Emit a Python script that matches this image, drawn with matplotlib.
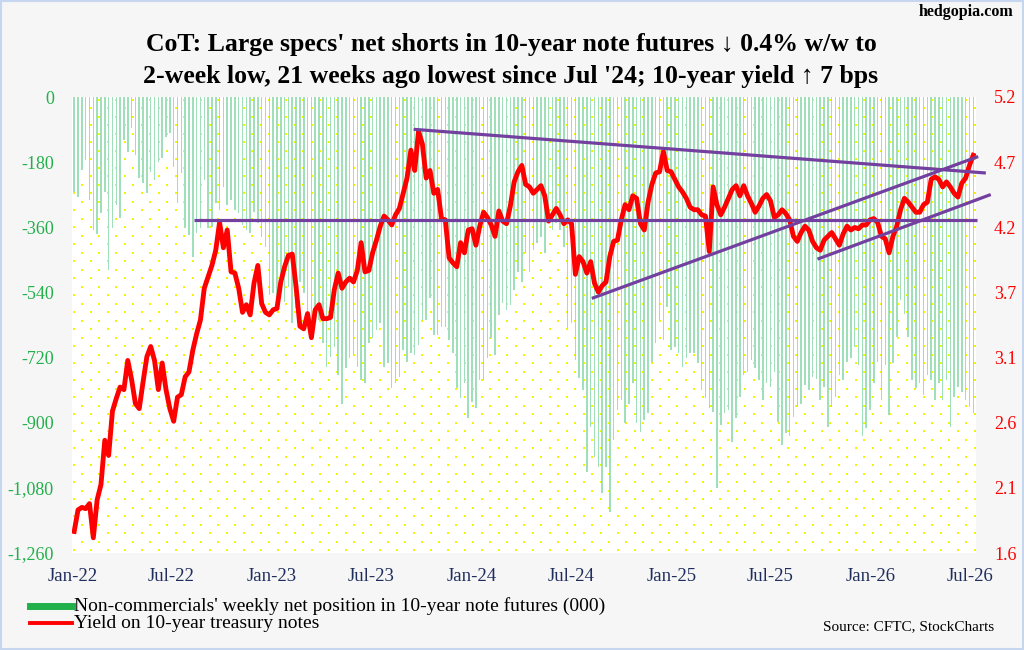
import numpy as np
import pandas as pd
import matplotlib

matplotlib.use("Agg")
import matplotlib.pyplot as plt
import matplotlib.dates as mdates
from matplotlib.lines import Line2D
from matplotlib.patches import Rectangle
from matplotlib.ticker import FixedLocator, FuncFormatter

# weekly CoT reports, first one on Tue 4 Jan 2022
first_week = "2022-01-04"

# non-commercials' net position, 10-year note futures (000 contracts)
net_position = [
    -262, -275, -202, -174, -285, -367, -378, -321, -262, -478,
    -363, -298, -333, -119, -151, -87, -160, -225, -239, -266,
    -206, -229, -179, -169, -110, -100, -193, -294, -211, -363,
    -381, -441, -377, -363, -229, -363, -358, -294, -312, -248,
    -298, -285, -312, -321, -354, -367, -377, -317, -349, -386,
    -414, -547, -542, -560,
    -542, -566, -524, -625, -584, -510, -542, -625, -667, -625,
    -616, -681, -745, -718, -690, -768, -847, -750, -722, -713,
    -745, -782, -791, -681, -667, -644, -625, -745, -736, -805,
    -791, -773, -699, -732, -708, -713, -685, -616, -616, -556,
    -658, -658, -635, -635, -671, -708, -805, -832, -791, -888,
    -842, -860, -782,
    -782, -722, -667, -713, -602, -570, -589, -575, -533, -483,
    -510, -432, -483, -423, -404, -386, -432, -349, -367, -349,
    -367, -414, -639, -625, -727, -777, -810, -1035, -911, -994,
    -1021, -1095, -1021, -1146, -948, -865, -837, -902, -847, -791,
    -902, -925, -892, -874, -731, -681, -616, -671, -579, -699,
    -690, -708, -745,
    -720, -708, -708, -735, -810, -832, -859, -870,
    -1080, -906, -873, -865, -952, -887, -828, -768, -760, -727,
    -749, -782, -837, -790, -800, -760, -897, -962, -929, -938,
    -883, -856, -847, -796, -810, -773, -780, -837, -800, -911,
    -856, -828, -768, -782, -731, -722, -690, -740, -938, -915,
    -865, -790, -731, -837, -740, -879, -735, -663, -560, -600,
    -663, -782, -804, -790, -823, -768, -782, -837, -790, -837,
    -782, -911, -828, -800, -815, -837, -856, -874,
]

# 10-year treasury yield (%)
yield_10y = [
    1.77, 1.94, 1.96, 1.95, 1.99, 1.72, 2.02, 2.14, 2.49, 2.37,
    2.72, 2.82, 2.91, 2.89, 3.12, 2.97, 2.78, 2.74, 2.95, 3.15,
    3.23, 3.12, 2.89, 3.10, 2.89, 2.74, 2.64, 2.83, 2.85, 2.99,
    3.03, 3.20, 3.33, 3.44, 3.69, 3.78, 3.87, 3.99, 4.21, 4.01,
    4.15, 3.82, 3.81, 3.69, 3.50, 3.56, 3.48, 3.73, 3.87, 3.57,
    3.50, 3.48, 3.52,
    3.53, 3.74, 3.86, 3.95, 3.96, 3.70, 3.39, 3.37, 3.49, 3.30,
    3.52, 3.56, 3.45, 3.45, 3.46, 3.68, 3.81, 3.69, 3.74, 3.77,
    3.74, 3.83, 4.05, 3.82, 3.83, 3.97, 4.07, 4.18, 4.26, 4.23,
    4.19, 4.27, 4.32, 4.44, 4.56, 4.78, 4.62, 4.93, 4.83, 4.56,
    4.62, 4.44, 4.47, 4.24, 4.23, 3.93, 3.89, 3.86, 4.05, 3.97,
    4.15, 4.16, 4.03, 4.18,
    4.29, 4.25, 4.19, 4.10, 4.30, 4.22, 4.20, 4.34, 4.53, 4.61,
    4.66, 4.51, 4.49, 4.44, 4.47, 4.50, 4.42, 4.22, 4.27, 4.32,
    4.27, 4.20, 4.23, 4.20, 3.80, 3.94, 3.90, 3.81, 3.90, 3.73,
    3.66, 3.71, 3.74, 3.94, 4.06, 4.07, 4.23, 4.35, 4.31, 4.42,
    4.40, 4.20, 4.15, 4.37, 4.51, 4.60, 4.61, 4.77, 4.62, 4.61,
    4.55, 4.49, 4.45,
    4.40, 4.33, 4.31, 4.31, 4.27, 4.26, 3.98, 4.49, 4.35, 4.27,
    4.33, 4.40, 4.47, 4.50, 4.42, 4.50, 4.42, 4.36, 4.29, 4.34,
    4.40, 4.43, 4.38, 4.25, 4.27, 4.31, 4.28, 4.23, 4.10, 4.06,
    4.13, 4.18, 4.15, 4.06, 4.01, 3.99, 4.07, 4.10, 4.13, 4.08,
    4.03, 4.12, 4.18, 4.15, 4.17, 4.16, 4.19, 4.19, 4.23, 4.24,
    4.21, 4.10, 4.08, 3.97, 4.10, 4.18, 4.31, 4.40, 4.37, 4.33,
    4.29, 4.29, 4.35, 4.37, 4.55, 4.57, 4.55, 4.49, 4.53, 4.49,
    4.44, 4.41, 4.52, 4.56, 4.66, 4.74,
]

# hand-drawn trend lines on the yield scale: (start date, yield), (end date, yield)
trend_lines = [
    (("2022-08-11", 4.23), ("2026-07-14", 4.23)),
    (("2023-09-17", 4.945), ("2026-07-30", 4.60)),
    (("2024-08-08", 3.61), ("2026-07-16", 4.73)),
    (("2025-09-25", 3.92), ("2026-08-08", 4.43)),
]

left_ticks = [0, -180, -360, -540, -720, -900, -1080, -1260]
right_tick_labels = ["1.6", "2.1", "2.6", "3.1", "3.7", "4.2", "4.7", "5.2"]
x_tick_dates = ["2022-01-01", "2022-07-01", "2023-01-01", "2023-07-01", "2024-01-01",
                "2024-07-01", "2025-01-01", "2025-07-01", "2026-01-01", "2026-07-01"]

title_1 = "CoT: Large specs' net shorts in 10-year note futures \u2193 0.4% w/w to"
title_2 = "2-week low, 21 weeks ago lowest since Jul '24; 10-year yield \u2191 7 bps"
legend_bars = "Non-commercials' weekly net position in 10-year note futures (000)"
legend_line = "Yield on 10-year treasury notes"

SERIF = ["Liberation Serif", "DejaVu Serif"]
GREEN_BAR = "#9fe0bb"
GREEN_TXT = "#22b04b"
RED = "#ff0000"
PURPLE = "#7440a0"
NAVY = "#1f2d5c"

weeks = pd.date_range(first_week, periods=len(net_position), freq="7D")

W, H = 1024, 650
fig = plt.figure(figsize=(W / 100, H / 100), dpi=100, facecolor="#f6f6f6")
ax = fig.add_axes([72 / W, 1 - 553 / H, 904 / W, 456 / H])
ax.set_facecolor("white")

# yellow dotted backdrop (offset rows)
dx, dy = 17 / 904, 8.5 / 456
pts = []
for r, yy in enumerate(np.arange(dy / 3, 1.0, dy)):
    off = 0 if r % 2 == 0 else dx / 2
    for xx in np.arange(off + 0.002, 1.0, dx):
        pts.append((xx, yy))
pts = np.array(pts)
ax.scatter(pts[:, 0], pts[:, 1], s=3.5, marker="s", color="#f4f400", linewidths=0,
           transform=ax.transAxes, zorder=0)

ax.bar(weeks, net_position, width=2.8, color=GREEN_BAR, linewidth=0, zorder=1)
ax.set_ylim(-1260, 0)
ax.set_xlim(pd.Timestamp("2021-12-31"), pd.Timestamp("2026-07-12"))

ax2 = ax.twinx()
ax2.set_ylim(1.6, 5.2)
ax2.plot(weeks, yield_10y, color=RED, lw=3.5, solid_joinstyle="round", zorder=3)
for (d0, v0), (d1, v1) in trend_lines:
    ax2.plot([pd.Timestamp(d0), pd.Timestamp(d1)], [v0, v1], color=PURPLE, lw=2.3,
             solid_capstyle="butt", clip_on=False, zorder=4)

for a in (ax, ax2):
    for s in a.spines.values():
        s.set_visible(False)
    a.tick_params(length=0)

ax.yaxis.set_major_locator(FixedLocator(left_ticks))
ax.yaxis.set_major_formatter(FuncFormatter(lambda v, p: f"{v:,.0f}"))
ax.tick_params(axis="y", pad=13, labelsize=13, labelcolor=GREEN_TXT)
ax2.yaxis.set_major_locator(FixedLocator(np.linspace(1.6, 5.2, len(right_tick_labels))))
ax2.set_yticklabels(right_tick_labels)
ax2.tick_params(axis="y", pad=13, labelsize=13, labelcolor=RED)

ax.xaxis.set_major_locator(FixedLocator(mdates.date2num(pd.to_datetime(x_tick_dates))))
ax.xaxis.set_major_formatter(mdates.DateFormatter("%b-%y"))
ax.tick_params(axis="x", pad=11, labelsize=13.5, labelcolor=NAVY)

for lab in ax.get_xticklabels() + ax.get_yticklabels() + ax2.get_yticklabels():
    lab.set_family(SERIF)

fig.text(511 / W, 1 - 45 / H, title_1, ha="center", va="center", fontsize=18.5,
         fontweight="bold", family=SERIF)
fig.text(511 / W, 1 - 76 / H, title_2, ha="center", va="center", fontsize=18.5,
         fontweight="bold", family=SERIF)
fig.text(1013 / W, 1 - 12 / H, "hedgopia.com", ha="right", va="center", fontsize=11.5,
         fontweight="bold", family=SERIF)

fig.add_artist(Line2D([30 / W, 72 / W], [1 - 606 / H] * 2, color=GREEN_TXT, lw=5,
                      transform=fig.transFigure))
fig.add_artist(Line2D([30 / W, 72 / W], [1 - 623 / H] * 2, color=RED, lw=2.8,
                      transform=fig.transFigure))
fig.text(74 / W, 1 - 606 / H, legend_bars, va="center", fontsize=14, family=SERIF)
fig.text(74 / W, 1 - 623 / H, legend_line, va="center", fontsize=14, family=SERIF)
fig.text(994 / W, 1 - 627 / H, "Source: CFTC, StockCharts", ha="right", va="center",
         fontsize=11, family=SERIF)

fig.add_artist(Rectangle((0.001, 0.001), 0.998, 0.998, transform=fig.transFigure,
                         fill=False, ec="#c6d6ee", lw=1.5))

fig.savefig("out.png", dpi=100, facecolor=fig.get_facecolor())
plt.close(fig)
